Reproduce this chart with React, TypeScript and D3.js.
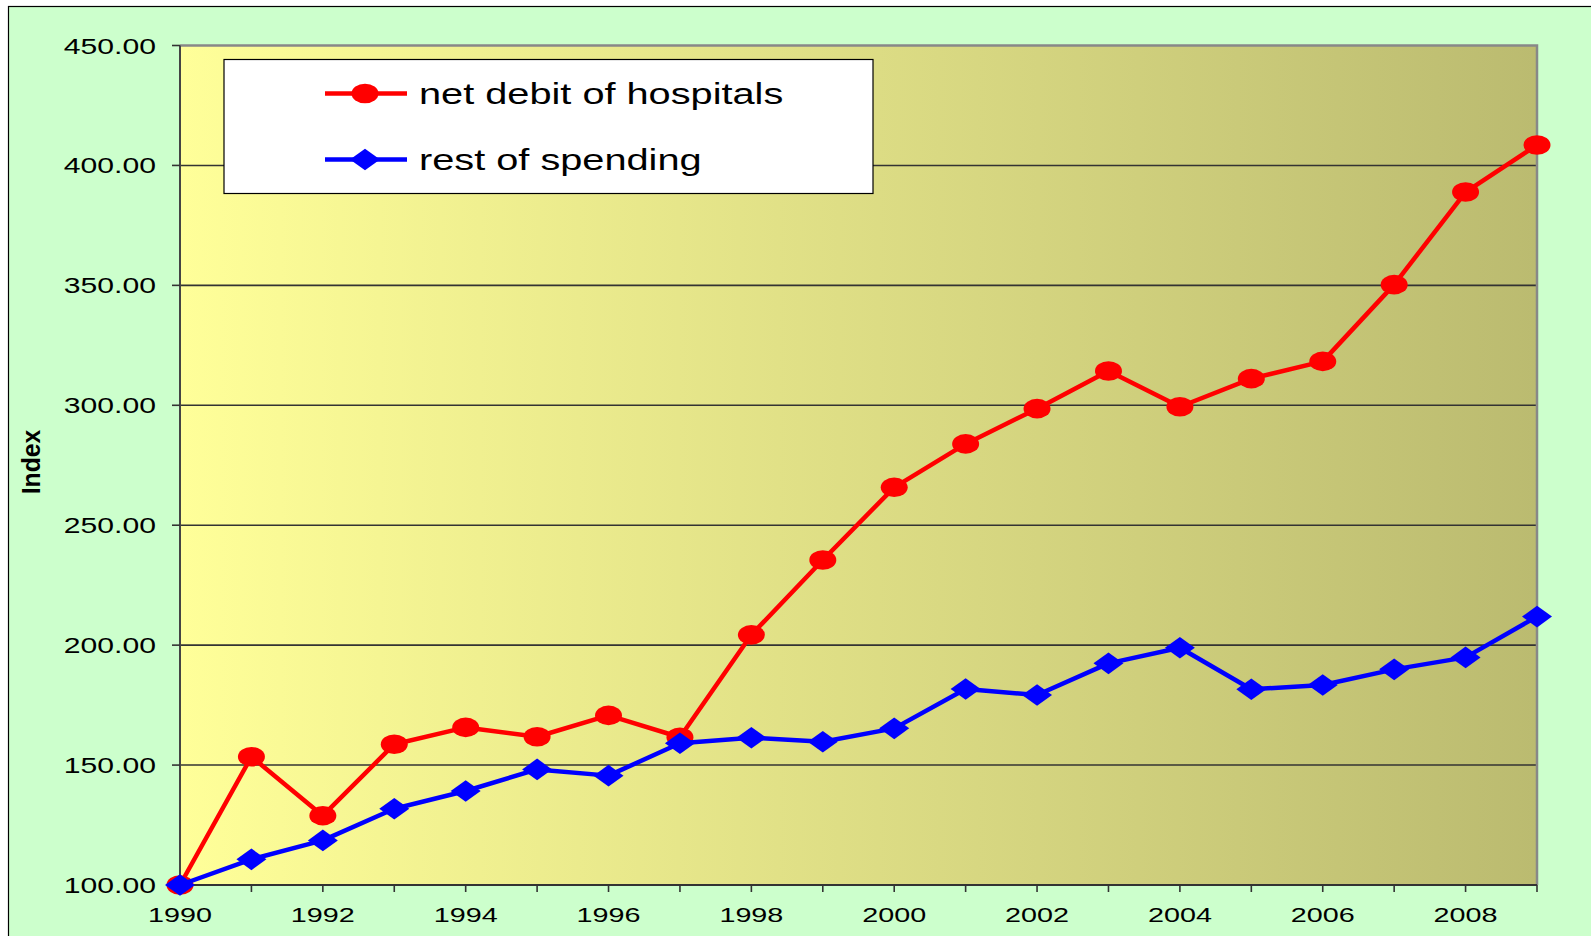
import React from 'react';
import * as d3 from 'd3';

// Index values, 1990 = 100
const years = [1990, 1991, 1992, 1993, 1994, 1995, 1996, 1997, 1998, 1999, 2000, 2001, 2002, 2003, 2004, 2005, 2006, 2007, 2008, 2009];
const hospitals = [100, 153.5, 128.9, 158.7, 165.7, 161.8, 170.7, 161.6, 204.3, 235.5, 265.8, 283.9, 298.6, 314.3, 299.4, 311.1, 318.3, 350.3, 388.9, 408.5];
const restOfSpending = [100, 110.7, 118.6, 131.8, 139.2, 148.2, 145.6, 159.1, 161.4, 159.7, 165.3, 181.7, 179.2, 192.4, 198.9, 181.6, 183.4, 189.9, 194.9, 211.9];
const yTicks = [100, 150, 200, 250, 300, 350, 400, 450];
const xLabels = [1990, 1992, 1994, 1996, 1998, 2000, 2002, 2004, 2006, 2008];
const seriesNames = ['net debit of hospitals', 'rest of spending'];

const W = 1591;
const H = 936;
const FONT = '"Liberation Sans", Arial, sans-serif';
const SX = 1.37; // the original is stretched sideways

export default function App() {
  const x = d3.scaleLinear().domain([1990, 2009]).range([180, 1537]);
  const y = d3.scaleLinear().domain([100, 450]).range([885, 45.5]);

  const line = d3.line<number>()
    .x((_, i) => x(years[i]))
    .y(d => y(d));

  const diamond = (cx: number, cy: number) =>
    `M${cx - 15},${cy} L${cx},${cy - 10.8} L${cx + 15},${cy} L${cx},${cy + 10.8} Z`;

  return (
    <svg width={W} height={H} style={{ position: 'absolute', left: 0, top: 0, display: 'block' }}>
      <defs>
        <linearGradient id="plotBg" x1="0" x2="1" y1="0" y2="0">
          <stop offset="0%" stopColor="#FFFF99" />
          <stop offset="100%" stopColor="#BBBB70" />
        </linearGradient>
      </defs>

      <rect x={0} y={0} width={W} height={H} fill="#fff" />
      <rect x={8.5} y={6.5} width={W + 10} height={H + 10} fill="#CCFFCC" stroke="#000" strokeWidth={1.2} />

      {/* plot area */}
      <rect x={x(1990)} y={y(450)} width={x(2009) - x(1990)} height={y(100) - y(450)} fill="url(#plotBg)" />

      {/* gridlines */}
      {yTicks.filter(t => t > 100 && t < 450).map(t => (
        <line key={t} x1={x(1990)} x2={x(2009)} y1={y(t)} y2={y(t)} stroke="#333" strokeWidth={1.6} />
      ))}

      {/* top and right border */}
      <path d={`M${x(1990)},${y(450)} H${x(2009)} V${y(100)}`} fill="none" stroke="#888" strokeWidth={2.5} />

      {/* y axis */}
      <line x1={x(1990)} x2={x(1990)} y1={y(450)} y2={y(100)} stroke="#444" strokeWidth={2} />
      {yTicks.map(t => (
        <g key={t}>
          <line x1={172} x2={x(1990)} y1={y(t)} y2={y(t)} stroke="#333" strokeWidth={1.6} />
          <text
            transform={`translate(156,${y(t) + 8}) scale(${SX},1)`}
            textAnchor="end"
            fontFamily={FONT}
            fontSize={22}
            fill="#000"
          >
            {t.toFixed(2)}
          </text>
        </g>
      ))}

      {/* x axis */}
      <line x1={x(1990)} x2={x(2009)} y1={y(100)} y2={y(100)} stroke="#333" strokeWidth={2} />
      {years.map(yr => (
        <line key={yr} x1={x(yr)} x2={x(yr)} y1={y(100)} y2={y(100) + 7} stroke="#333" strokeWidth={1.6} />
      ))}
      {xLabels.map(yr => (
        <text
          key={yr}
          transform={`translate(${x(yr)},921.5) scale(${SX},1)`}
          textAnchor="middle"
          fontFamily={FONT}
          fontSize={21}
          fill="#000"
        >
          {yr}
        </text>
      ))}

      {/* y axis title */}
      <text
        transform="translate(39.5,462) rotate(-90) scale(1.03,1.05)"
        textAnchor="middle"
        fontFamily={FONT}
        fontSize={24}
        fontWeight="bold"
        fill="#000"
      >
        Index
      </text>

      {/* series */}
      <path d={line(hospitals) || ''} fill="none" stroke="#FF0000" strokeWidth={4.5} strokeLinejoin="round" />
      {hospitals.map((v, i) => (
        <ellipse key={i} cx={x(years[i])} cy={y(v)} rx={13.5} ry={9.8} fill="#FF0000" />
      ))}
      <path d={line(restOfSpending) || ''} fill="none" stroke="#0000FF" strokeWidth={4.5} strokeLinejoin="round" />
      {restOfSpending.map((v, i) => (
        <path key={i} d={diamond(x(years[i]), y(v))} fill="#0000FF" />
      ))}

      {/* legend */}
      <rect x={224} y={59.5} width={649} height={134} fill="#fff" stroke="#000" strokeWidth={1.2} />
      {seriesNames.map((name, i) => {
        const ly = i === 0 ? 93.5 : 159.5;
        return (
          <g key={name}>
            <line x1={325} x2={407} y1={ly} y2={ly} stroke={i === 0 ? '#FF0000' : '#0000FF'} strokeWidth={4.5} />
            {i === 0
              ? <ellipse cx={365} cy={ly} rx={13.5} ry={9.8} fill="#FF0000" />
              : <path d={diamond(365, ly)} fill="#0000FF" />}
            <text
              transform={`translate(419,${ly + 10.5}) scale(${SX},1)`}
              fontFamily={FONT}
              fontSize={29}
              fill="#000"
            >
              {name}
            </text>
          </g>
        );
      })}
    </svg>
  );
}
